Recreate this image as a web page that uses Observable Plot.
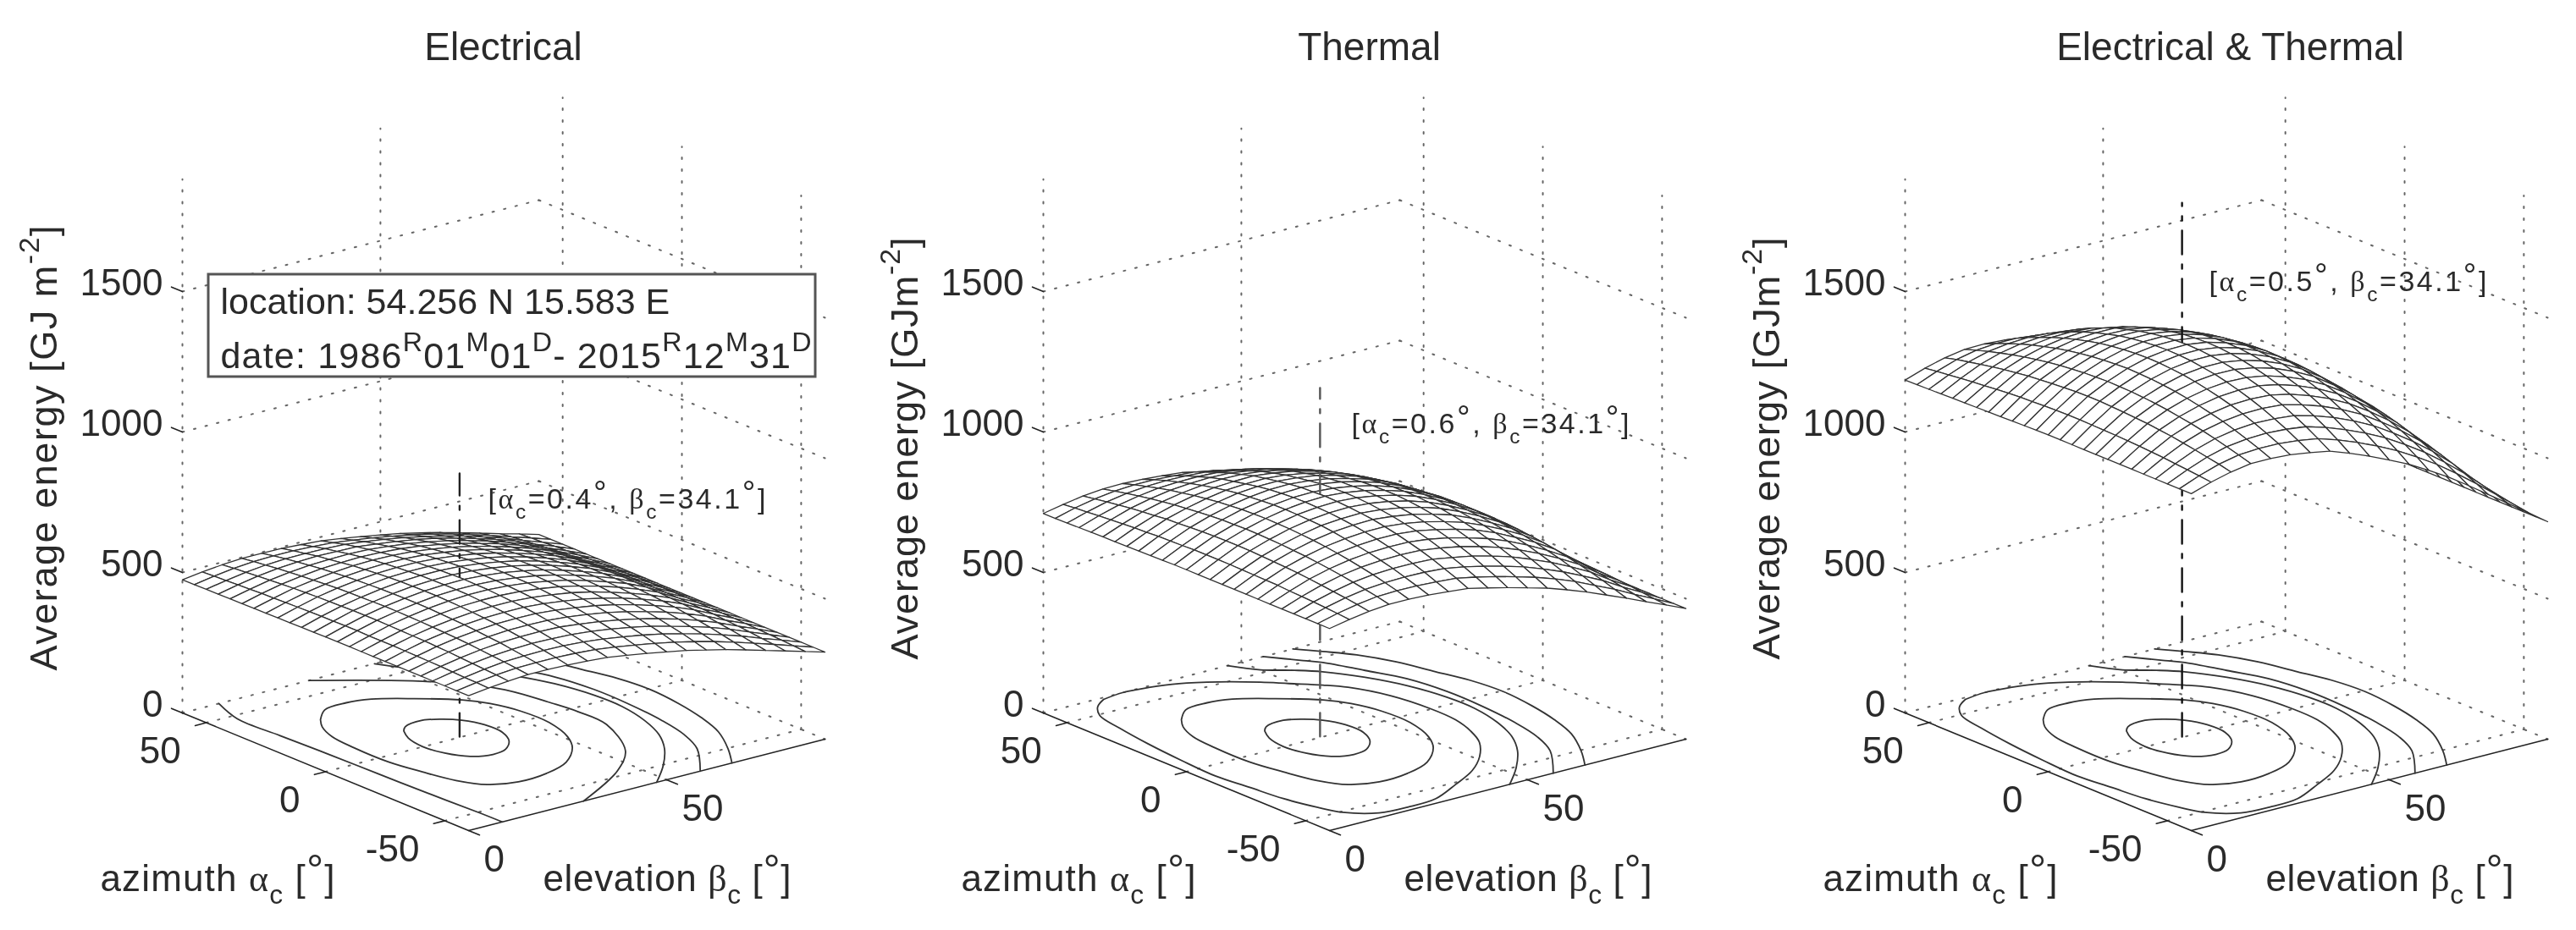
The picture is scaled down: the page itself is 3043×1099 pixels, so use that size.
<!DOCTYPE html>
<html><head><meta charset="utf-8">
<script src="https://cdn.jsdelivr.net/npm/d3@7"></script>
<script src="https://cdn.jsdelivr.net/npm/@observablehq/plot@0.6"></script>
<style>html,body{margin:0;padding:0;background:#fff}#row{display:flex;width:3043px;height:1099px}svg{display:block;filter:blur(.5px)}</style>
</head><body><div id="row"></div>
<script>
const azimuths=[-60,-55,-50,-45,-40,-35,-30,-25,-20,-15,-10,-5,0,5,10,15,20,25,30,35,40,45,50,55,60];
const elevations=[0,5,10,15,20,25,30,35,40,45,50,55,60,65,70,75,80,85,90];
// average energy: one row per elevation, one column per azimuth
const surfaceElectrical=[
[480,480,480,480,480,480,480,480,480,480,480,480,480,479,479,478,478,477,477,476,476,475,475,474,474],
[489,491,492,494,496,497,498,499,500,500,500,501,501,500,500,499,498,497,495,494,492,490,488,486,484],
[496,500,503,506,509,512,514,516,517,518,519,520,520,520,518,517,516,514,512,509,506,503,499,496,491],
[501,506,511,515,519,523,526,528,530,532,533,534,534,533,532,531,529,526,523,520,516,512,507,502,496],
[501,508,514,520,526,530,534,538,540,542,544,545,545,544,543,541,539,536,532,528,523,517,511,504,496],
[499,508,516,523,529,535,540,544,547,550,552,553,553,552,551,549,546,542,538,532,526,520,512,504,495],
[495,505,514,522,530,536,542,546,550,553,556,557,557,556,555,552,549,545,540,534,527,519,511,501,491],
[490,500,510,519,528,534,541,546,550,553,556,557,558,557,555,552,549,544,539,532,525,517,508,497,486],
[479,491,502,512,520,528,535,541,545,549,552,553,554,553,551,548,544,540,534,527,518,509,500,488,476],
[468,480,492,502,511,519,526,532,537,541,544,545,546,545,543,540,536,531,525,518,510,500,490,478,465],
[455,468,480,490,499,508,515,521,526,530,532,534,534,534,532,529,525,520,514,506,498,489,478,466,453],
[442,454,466,476,485,493,500,506,511,515,518,519,520,519,517,514,510,505,499,492,484,475,464,452,440],
[426,438,449,458,467,475,482,488,492,496,498,500,500,500,498,495,491,487,481,474,466,458,448,437,424],
[409,420,430,439,448,455,461,466,470,474,476,478,478,478,476,473,470,465,460,454,447,438,430,420,408],
[390,400,409,418,425,432,438,442,446,449,452,453,453,453,451,449,446,442,437,431,424,417,408,399,389],
[370,378,386,393,399,405,410,414,417,420,421,422,423,422,421,419,416,413,410,404,399,393,386,378,369],
[350,356,360,365,369,372,376,378,380,382,383,384,384,384,383,382,380,378,375,372,368,364,360,355,349],
[330,333,336,338,340,342,344,345,346,347,348,348,348,348,348,347,346,345,344,342,340,338,335,333,330],
[310,310,310,310,310,310,310,310,310,310,310,310,310,310,310,310,310,310,310,310,310,310,310,310,310]];
const surfaceThermal=[
[719,719,719,719,719,719,719,719,719,719,719,719,719,719,718,717,716,715,714,714,713,712,711,710,710],
[733,737,740,743,745,747,750,751,752,753,754,754,754,754,752,751,750,747,745,742,739,736,732,729,724],
[744,751,757,762,767,772,776,779,781,783,785,786,786,785,783,781,778,776,771,767,762,756,750,743,736],
[751,761,769,777,784,790,795,800,803,806,808,809,810,808,807,804,800,796,791,785,778,770,762,753,743],
[751,764,775,786,795,803,810,816,821,824,827,828,829,828,826,822,818,812,806,798,790,780,769,757,744],
[748,763,777,790,801,811,819,826,833,838,840,842,843,842,839,835,831,824,816,807,796,784,772,757,741],
[742,759,776,790,803,814,824,832,839,844,848,850,851,850,847,843,837,829,820,811,799,785,770,753,736],
[735,754,771,787,801,813,824,833,841,846,850,853,854,852,850,845,838,830,822,810,797,782,766,748,729],
[719,740,759,775,791,805,817,826,834,840,845,848,849,847,845,839,832,824,814,802,787,771,754,735,713],
[702,724,743,762,778,792,804,814,823,829,834,837,838,836,834,828,822,812,802,789,775,759,740,720,697],
[683,705,725,744,760,774,787,797,806,813,818,821,821,820,817,811,804,795,785,772,757,741,722,701,678],
[664,685,705,723,739,753,766,776,785,791,796,799,799,798,795,790,783,774,764,751,737,721,702,682,660],
[640,661,679,696,712,726,738,747,755,761,766,769,770,769,766,761,754,746,736,724,710,695,678,659,636],
[614,634,651,667,681,694,704,714,721,727,731,734,735,734,730,726,721,712,703,693,681,665,650,633,611],
[585,602,618,633,646,657,668,676,683,688,692,694,695,694,692,687,683,676,666,656,645,631,616,601,582],
[556,570,584,596,607,616,625,632,637,642,645,647,648,647,645,642,637,631,625,616,606,595,583,570,554],
[525,534,543,550,557,564,569,574,578,581,583,583,584,583,583,580,577,574,569,563,557,550,542,534,523],
[496,500,505,510,513,517,519,521,524,525,526,527,527,527,526,525,524,521,519,517,513,510,505,500,495],
[465,465,465,465,465,465,465,465,465,465,465,465,465,465,465,465,465,465,465,465,465,465,465,465,465]];
const surfaceBoth=[
[1199,1199,1199,1199,1199,1199,1199,1199,1199,1199,1199,1199,1199,1198,1197,1196,1194,1193,1192,1191,1190,1188,1187,1186,1185],
[1222,1227,1231,1235,1239,1242,1245,1247,1249,1250,1251,1252,1252,1251,1249,1247,1245,1242,1238,1234,1230,1225,1220,1215,1209],
[1240,1250,1258,1266,1273,1280,1285,1290,1293,1296,1298,1300,1300,1299,1296,1293,1289,1285,1279,1273,1265,1257,1248,1239,1228],
[1252,1265,1277,1288,1298,1307,1314,1321,1326,1330,1333,1334,1335,1333,1331,1327,1322,1316,1308,1300,1290,1279,1267,1254,1240],
[1252,1270,1286,1301,1314,1325,1335,1344,1351,1356,1360,1362,1363,1361,1358,1353,1347,1339,1330,1319,1307,1293,1277,1260,1241],
[1247,1269,1289,1307,1323,1337,1349,1359,1368,1375,1379,1382,1383,1381,1377,1372,1365,1355,1344,1331,1316,1299,1281,1260,1237],
[1237,1262,1285,1305,1324,1340,1354,1366,1376,1383,1389,1392,1393,1391,1387,1381,1373,1362,1349,1335,1318,1298,1277,1253,1228],
[1224,1251,1276,1298,1319,1336,1352,1364,1375,1383,1389,1393,1394,1392,1388,1381,1372,1360,1348,1331,1313,1292,1269,1243,1215],
[1198,1228,1255,1279,1301,1321,1338,1352,1363,1372,1379,1383,1384,1382,1378,1370,1360,1349,1334,1317,1296,1273,1249,1221,1190],
[1170,1201,1229,1255,1278,1298,1316,1330,1343,1352,1359,1363,1364,1362,1358,1350,1341,1327,1313,1294,1274,1251,1224,1195,1163],
[1138,1170,1199,1225,1248,1269,1287,1302,1314,1324,1331,1335,1336,1334,1330,1322,1312,1299,1284,1265,1244,1222,1194,1164,1132],
[1105,1136,1164,1190,1213,1233,1251,1265,1278,1287,1294,1298,1299,1297,1293,1286,1276,1263,1248,1230,1210,1187,1160,1131,1100],
[1065,1095,1122,1146,1168,1188,1205,1219,1230,1239,1246,1250,1251,1250,1245,1238,1228,1217,1203,1185,1166,1144,1120,1093,1060],
[1023,1051,1076,1098,1119,1137,1152,1165,1176,1184,1190,1194,1195,1194,1189,1183,1175,1163,1150,1135,1118,1096,1074,1050,1019],
[975,1000,1023,1044,1063,1079,1094,1106,1116,1123,1129,1132,1133,1132,1128,1122,1115,1105,1092,1077,1061,1042,1020,998,972],
[925,946,965,983,998,1012,1024,1034,1042,1049,1053,1056,1057,1056,1053,1048,1041,1033,1024,1011,997,982,964,945,923],
[875,889,901,912,922,931,939,945,951,955,958,959,960,959,958,954,950,945,938,930,921,911,900,888,873],
[825,832,839,845,850,855,859,862,865,867,869,870,870,870,869,867,865,862,859,855,850,845,838,832,824],
[774,774,774,774,774,774,774,774,774,774,774,774,774,774,774,774,774,774,774,774,774,774,774,774,774]];

const contoursCommon=[
 [[13,27.6],[15.4,29.4],[16.7,34.5],[14.3,38],[10.4,40.7],[3.9,42.5],[-3.8,42.4],[-10.2,40.2],[-14.9,36.5],[-16.1,32.6],[-13.7,28.3],[-7.5,25.6],[0.3,24.6],[7.8,25.6],[13,27.6]],
 [[33.5,18.9],[39,23.3],[40,29.3],[38.2,34.6],[31.7,41.4],[23.1,48.4],[16.3,51.4],[6.5,53.3],[-5.1,53.4],[-17,50.9],[-24.8,47.4],[-32.7,41.1],[-36.6,33.8],[-37.4,26.2],[-34.1,20.3],[-26.5,17],[-15.7,15],[-4,13.5],[10.3,13.5],[21,14.3],[28.8,16.5],[33.5,18.9]],
];
const contoursOuter=[
 [[58.8,14.5],[55,10.7],[49.3,7.8],[38.1,6.1],[23.8,4.6],[7.8,3.5],[-7.5,2.9],[-20,3.9],[-32.5,4.9],[-43.3,6.9],[-50.6,8.9],[-56.9,14.4],[-57.9,21],[-57.1,28.6],[-51.4,37],[-45.3,44.9],[-37.6,51.4],[-28.7,56.7],[-20.2,59.6],[-10.7,61.5],[0.5,61.8],[14.9,60.5],[27,57.1],[32.5,54],[38.9,49.3],[44.3,45.4],[51.3,39],[56.6,32.2],[59,26],[60,20],[58.8,14.5]],
 [[60,46.5],[52.1,50.1],[46.3,55.2],[40.9,59],[30.5,63.5],[18.4,66.9],[4.9,68.7],[-6.7,68.8],[-19.2,67],[-30.4,63.9],[-40.2,59.4],[-50.6,52.8],[-60,45.5]],
 [[60,55.5],[51.1,60.2],[46.7,62.6],[34.9,66.1],[22.8,69.5],[8.4,70.9],[-5.9,70.8],[-22,69.7],[-34.5,67.8],[-45.4,64.5],[-60,56.5]],
 [[60,63],[53.6,66.7],[46,70.7],[35.2,74.2],[22.7,76.6],[11.9,78.7],[-0.7,79.6],[-14.1,78.7],[-26.6,76.9],[-38.2,74.2],[-50.4,69.3],[-60,64.5]],
];
const contoursElectricalOuter=[
 [[60,9.2],[47.4,6.3],[30,6.6],[10.5,7.1],[-10,7.4],[-30,7.8],[-50.6,8.4],[-60,8.5]],
 [[-60,29],[-46.5,45.7],[-35.1,54.6],[-15.5,61.6],[-3,62],[8,61],[17,60],[27,57.5],[33,54.5],[43,48],[60,32]],
 [[60,48.5],[52.1,52.1],[46.3,57.2],[40.9,61],[30.5,65.5],[18.4,68.9],[4.9,70.7],[-6.7,70.8],[-19.2,69],[-30.4,65.9],[-40.2,61.4],[-50.6,54.8],[-60,47.5]],
 [[60,57.5],[51.1,62.2],[46.7,64.6],[34.9,68.1],[22.8,71.5],[8.4,72.9],[-5.9,72.8],[-22,71.7],[-34.5,69.8],[-45.4,66.5],[-60,58.5]],
 [[60,65],[53.6,68.7],[46,72.7],[35.2,76.2],[22.7,78.6],[11.9,80.7],[-0.7,81.6],[-14.1,80.7],[-26.6,78.9],[-38.2,76.2],[-50.4,71.3],[-60,66.5]],
];
const energyTicks=[0,500,1000,1500];
const azimuthTicks=[50,0,-50];
const elevationTicks=[0,50];

const px=(az,el)=>215+4.678*el+2.817*(60-az);
const py=(az,el,z)=>842-1.2*el+1.158*(60-az)-.332*z;
const pt=(az,el,z,id)=>({x:px(az,el),y:py(az,el,z),id});
const seg=(list)=>list.flatMap((s,k)=>s.map(p=>pt(p[0],p[1],p[2],k)));

function markup(svg,lengths){
  svg.querySelectorAll("text").forEach(t=>{
    const s=t.textContent;
    const fs=parseFloat(t.getAttribute("font-size")||t.parentNode.getAttribute("font-size")||44);
    if(/[_^αβ]/.test(s)){
      const parts=s.split(/(\^\{[^}]*\}|_\{[^}]*\}|[αβ])/).filter(d=>d);
      t.textContent="";
      let back=0;
      for(const p of parts){
        const ts=document.createElementNS("http://www.w3.org/2000/svg","tspan");
        let dy=back,back2=0;
        if(p[0]==="^"){ts.textContent=p.slice(2,-1);const ring=p.includes("°");ts.setAttribute("font-size",fs*(ring?1.15:.75));const up=ring?.16*fs:.45*fs;dy-=up;back2=up;}
        else if(p[0]==="_"){ts.textContent=p.slice(2,-1);ts.setAttribute("font-size",fs*.72);dy+=.36*fs;back2=-.36*fs;}
        else if(p==="α"||p==="β"){ts.textContent=p;ts.setAttribute("font-family","Liberation Serif");}
        else ts.textContent=p;
        ts.setAttribute("dy",dy);
        t.appendChild(ts);
        back=back2;
      }
    }
    if(lengths[s]){t.setAttribute("textLength",lengths[s]);t.setAttribute("lengthAdjust","spacing");}
  });
}

function panel(o){
  const {w,table,peak,top,title,titleX,ylabel,ylabelY,ylabelLen,note,noteX,noteY,contours,markerStroke,box}=o;
  const back=[],front=[];
  for(let i=elevations.length-2;i>=0;i--)for(let j=azimuths.length-1;j>0;j--){
    const c=[[j,i],[j-1,i],[j-1,i+1],[j,i+1],[j,i]].map(([a,e])=>pt(azimuths[a],elevations[e],table[e][a],`${i}-${j}`));
    const isBack=elevations[i]>=35||(elevations[i]===30&&azimuths[j]>5);
    (isBack?back:front).push(...c);
  }
  const wall=seg(energyTicks.slice(1).flatMap(z=>[[[60,0,z],[60,90,z]],[[60,90,z],[-60,90,z]]]));
  const verticals=seg([[[60,0,0],[60,0,1900]],[[60,50,0],[60,50,1900]],...azimuthTicks.map(a=>[[a,90,0],[a,90,1900]])]);
  const floor=seg([[[60,0,0],[60,90,0]],[[60,90,0],[-60,90,0]],...azimuthTicks.map(a=>[[a,0,0],[a,90,0]]),...elevationTicks.slice(1).map(e=>[[60,e,0],[-60,e,0]])]);
  const axes=seg([[[60,0,0],[-60,0,0],[-60,90,0]],...azimuthTicks.map(a=>[[a,0,0],[a,-2.8,0]]),...elevationTicks.map(e=>[[-60,e,0],[-64.6,e,0]]),...energyTicks.map(z=>[[60,0,z],[64.6,0,z]])]);
  const cont=contours.flatMap((c,k)=>c.map(p=>pt(p[0],p[1],0,k)));
  const marker=[pt(peak[0],peak[1],0,0),pt(peak[0],peak[1],top,0)];
  const T={fontFamily:"Liberation Sans",fill:"#2a2a2a"};
  const txt=(d,opts)=>Plot.text(d,{...T,x:"x",y:"y",text:"t",lineAnchor:"bottom",...opts});
  const dotted={x:"x",y:"y",z:"id",stroke:"#666",strokeWidth:2,strokeDasharray:"2 12"};
  const marks=[
    Plot.line(verticals,dotted),
    Plot.line(wall,dotted),
    Plot.line(floor,dotted),
    Plot.line(axes,{x:"x",y:"y",z:"id",stroke:"#222",strokeWidth:1.6}),
    Plot.line(cont,{x:"x",y:"y",z:"id",stroke:"#333",strokeWidth:1.8,curve:"catmull-rom"}),
    Plot.line(back,{x:"x",y:"y",z:"id",fill:"white",stroke:"#333",strokeWidth:1.3}),
    Plot.line(marker,{x:"x",y:"y",stroke:markerStroke,strokeWidth:2.4,strokeDasharray:"28 12 5 12"}),
    Plot.line(front,{x:"x",y:"y",z:"id",fill:"white",stroke:"#333",strokeWidth:1.3}),
    txt(energyTicks.map(z=>({...pt(68.2,0,z),t:String(z)})),{textAnchor:"end",fontSize:44,lineAnchor:"middle"}),
    txt(azimuthTicks.map(a=>({...pt(a,0,0),t:String(a)})),{textAnchor:"end",fontSize:44,dx:-30,dy:48}),
    txt(elevationTicks.map(e=>({...pt(-60,e,0),t:String(e)})),{textAnchor:"start",fontSize:44,dx:18,dy:49}),
    txt([{x:titleX,y:70,t:title}],{textAnchor:"middle",fontSize:46}),
    txt([{x:118,y:1052,t:"azimuth α_{c} [^{°}]"}],{textAnchor:"start",fontSize:44}),
    txt([{x:641,y:1052,t:"elevation β_{c} [^{°}]"}],{textAnchor:"start",fontSize:44}),
    txt([{x:66,y:ylabelY,t:ylabel}],{textAnchor:"start",fontSize:45,rotate:-90}),
    txt([{x:noteX,y:noteY,t:note}],{textAnchor:"start",fontSize:34}),
  ];
  if(box)marks.push(
    Plot.rect([{}],{x1:()=>246,x2:()=>963,y1:()=>324,y2:()=>445,fill:"white",stroke:"#555",strokeWidth:3}),
    txt([{x:260,y:370,t:"location: 54.256 N 15.583 E"}],{textAnchor:"start",fontSize:43}),
    txt([{x:260,y:434,t:"date: 1986^{R}01^{M}01^{D}- 2015^{R}12^{M}31^{D}"}],{textAnchor:"start",fontSize:43})
  );
  const svg=Plot.plot({width:w,height:1099,margin:0,x:{domain:[0,w],range:[0,w],axis:null},y:{domain:[0,1099],range:[0,1099],axis:null},style:{background:"white"},marks});
  markup(svg,{[ylabel]:ylabelLen,[note]:328,"azimuth α_{c} [^{°}]":277,"elevation β_{c} [^{°}]":293,"date: 1986^{R}01^{M}01^{D}- 2015^{R}12^{M}31^{D}":698});
  document.getElementById("row").appendChild(svg);
}
panel({w:1017,table:surfaceElectrical,peak:[.4,34.1],top:937,title:"Electrical",titleX:594,ylabel:"Average energy [GJ m^{-2}]",ylabelY:792,ylabelLen:526,note:"[α_{c}=0.4^{°}, β_{c}=34.1^{°}]",noteX:576,noteY:600,contours:[...contoursCommon,...contoursElectricalOuter],markerStroke:"#222",box:true});
panel({w:1018,table:surfaceThermal,peak:[.6,34.1],top:1241,title:"Thermal",titleX:600,ylabel:"Average energy [GJm^{-2}]",ylabelY:779,ylabelLen:499,note:"[α_{c}=0.6^{°}, β_{c}=34.1^{°}]",noteX:579,noteY:511,contours:[...contoursCommon,...contoursOuter],markerStroke:"#555"});
panel({w:1008,table:surfaceBoth,peak:[.5,34.1],top:1900,title:"Electrical & Thermal",titleX:599,ylabel:"Average energy [GJm^{-2}]",ylabelY:779,ylabelLen:499,note:"[α_{c}=0.5^{°}, β_{c}=34.1^{°}]",noteX:574,noteY:343,contours:[...contoursCommon,...contoursOuter],markerStroke:"#111"});
</script></body></html>
